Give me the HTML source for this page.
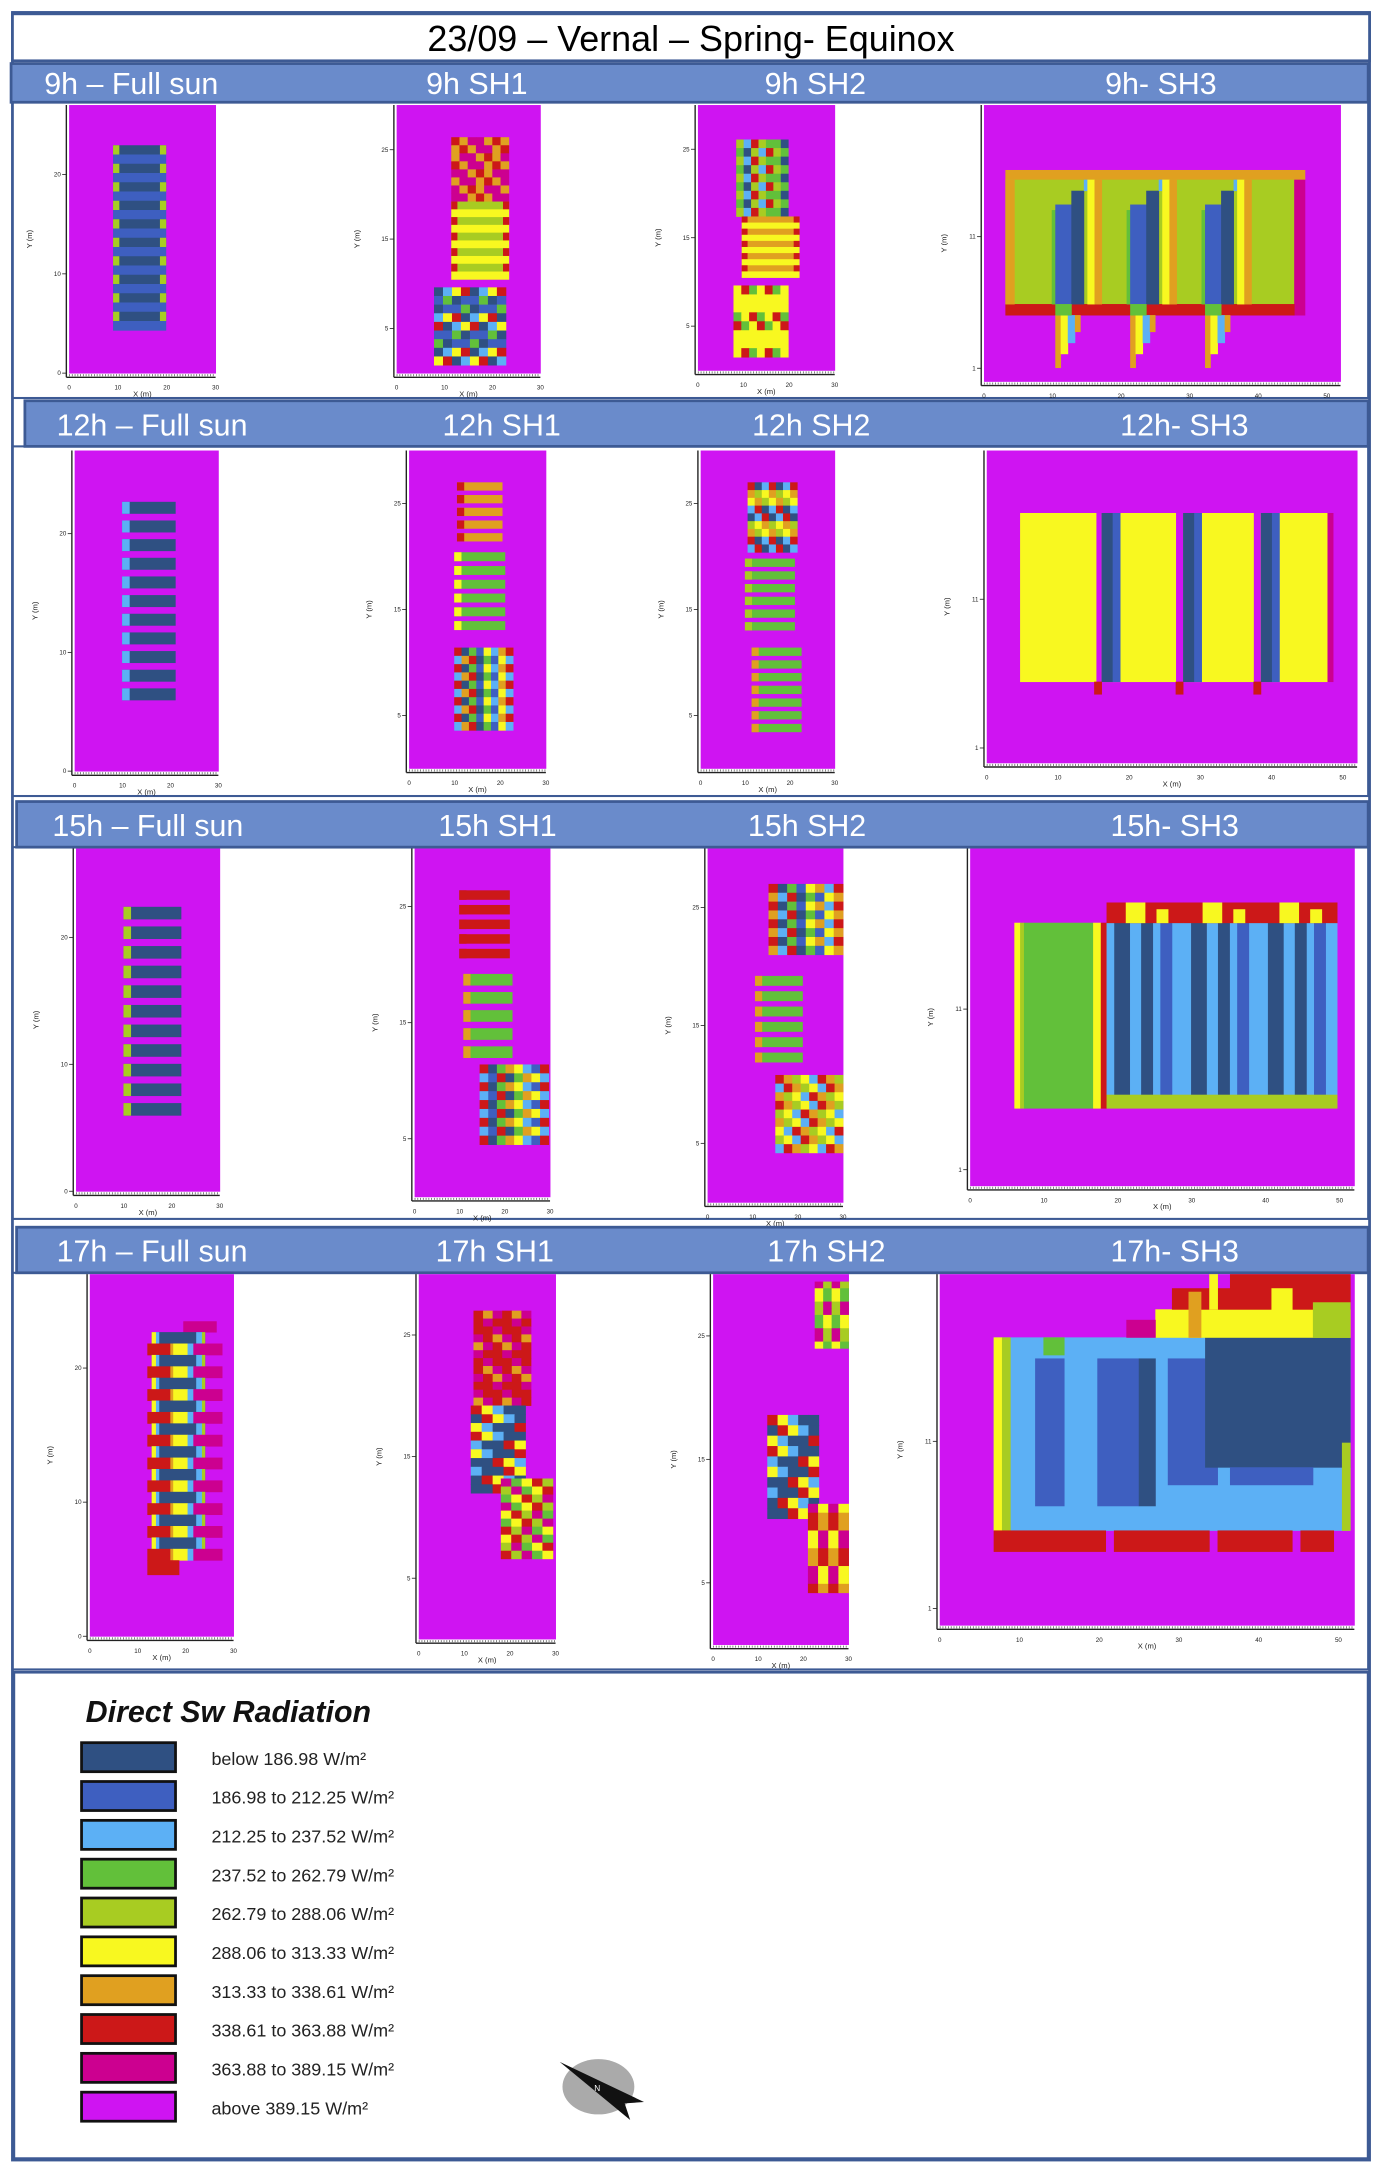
<!DOCTYPE html>
<html><head><meta charset="utf-8"><style>
html,body{margin:0;padding:0;background:#fff;}
svg{display:block;}
text{font-family:"Liberation Sans",sans-serif;}
</style></head><body>
<svg id="fig" width="1382" height="2178" viewBox="0 0 1000 1576" xmlns="http://www.w3.org/2000/svg">
<rect x="0" y="0" width="1000" height="1576" fill="#fff"/>
<rect x="9" y="9" width="982" height="1554" fill="none" stroke="#3d5a94" stroke-width="2"/>
<rect x="9" y="10" width="982" height="34" fill="#fff" stroke="#3d5a94" stroke-width="2"/>
<text x="500" y="37" font-size="26" text-anchor="middle" fill="#000">23/09 – Vernal – Spring- Equinox</text>
<g id="rows"></g>
<rect x="10" y="1210" width="980" height="352" fill="#fff" stroke="#3d5a94" stroke-width="2"/>
<text x="62" y="1246" font-size="22" font-weight="900" font-style="italic" fill="#111">Direct Sw Radiation</text>
<g id="legend"></g>
<g>
<ellipse cx="433" cy="1510" rx="26" ry="20" fill="#aaa"/>
<polygon points="405,1492 466,1521 452,1522 456,1534" fill="#111"/>
<text x="430" y="1513" font-size="6" fill="#fff">N</text>
</g>
</svg>
<script>
const NS="http://www.w3.org/2000/svg";
const legendLabels=["below 186.98 W/m²","186.98 to 212.25 W/m²","212.25 to 237.52 W/m²","237.52 to 262.79 W/m²","262.79 to 288.06 W/m²","288.06 to 313.33 W/m²","313.33 to 338.61 W/m²","338.61 to 363.88 W/m²","363.88 to 389.15 W/m²","above 389.15 W/m²"];
const legendColors=["#2f5082","#3e5fc0","#5cb0f5","#62c03a","#a8cc22","#f8f820","#e0a020","#cc1818","#cc0090","#cf14f2"];
const C={n:"#2f5082",b:"#3e5fc0",l:"#5cb0f5",g:"#62c03a",y:"#a8cc22",Y:"#f8f820",o:"#e0a020",r:"#cc1818",p:"#cc0090",m:"#cf14f2"};
const rowTops=[46,290,580,888];
const rowHeaderX=[8,18,12,12];
const rowBottoms=[288,576,882,1208];
const rowLabels=[["9h – Full sun","9h SH1","9h SH2","9h- SH3"],["12h – Full sun","12h SH1","12h SH2","12h- SH3"],["15h – Full sun","15h SH1","15h SH2","15h- SH3"],["17h – Full sun","17h SH1","17h SH2","17h- SH3"]];
const labelX=[[95,345,590,840],[110,363,587,857],[107,360,584,850],[110,358,598,850]];
const panels=[
[[50,76,156,270],[287,76,391,270],[505,76,604,268],[712,76,970,276]],
[[54,326,158,558],[296,326,395,556],[507,326,604,556],[714,326,982,552]],
[[55,614,159,862],[300,614,398,866],[512,614,610,870],[702,614,980,858]],
[[65,922,169,1184],[303,922,402,1186],[516,922,614,1190],[680,922,980,1176]]];
const specs=[
[[["bars",.30,.15,.66,.84,10,"n","b","y"]],
 [["chk",.38,.12,.78,.36,8,7,"rpoop"],["bars",.38,.36,.78,.65,5,"y","Y","r"],["chk",.26,.68,.76,.97,9,8,"nblbYgrn"]],
 [["chk",.28,.13,.66,.42,9,7,"yglgrny"],["bars",.32,.42,.74,.65,5,"o","Y","r"],["chk",.26,.68,.66,.95,8,7,"YYrYgY"]],
 [["sh3a"]]],
[[["gbars",.33,.16,.70,.80,11,"n","l"]],
 [["gbars",.35,.10,.68,.30,5,"o","r"],["gbars",.33,.32,.70,.58,6,"g","Y"],["chk",.33,.62,.76,.88,10,8,"rYnlgob"]],
 [["chk",.35,.10,.72,.32,9,7,"rYnoly"],["gbars",.33,.34,.70,.58,6,"g","y"],["gbars",.38,.62,.75,.90,7,"g","o"]],
 [["sh3b"]]],
[[["gbars",.33,.17,.73,.80,11,"n","y"]],
 [["gbars",.33,.12,.70,.33,5,"r","r"],["gbars",.36,.36,.72,.62,5,"g","o"],["chk",.48,.62,.99,.85,9,8,"rYnlgbo"]],
 [["chk",.45,.10,1,.30,8,8,"rYnoglb"],["gbars",.35,.36,.70,.62,6,"g","o"],["chk",.50,.64,1,.86,9,8,"rYoly"]],
 [["sh3c"]]],
[[["fs4"]],
 [["chk",.40,.10,.82,.36,12,6,"rrorpp"],["chk",.38,.36,.78,.60,10,5,"rnYnl"],["chk",.60,.56,.98,.78,10,5,"prgyY"]],
 [["chk",.75,.02,1,.20,10,4,"pgyY"],["chk",.40,.38,.78,.66,10,5,"rnYnl"],["chk",.70,.62,1,.86,10,4,"poYr"]],
 [["sh3d"]]]];
const rowsG=document.getElementById('rows');
function mk(tag,attrs,parent){const e=document.createElementNS(NS,tag);for(const k in attrs)e.setAttribute(k,attrs[k]);parent.appendChild(e);return e;}
function rect(g,x,y,w,h,c){if(w<=0||h<=0)return;mk('rect',{x:x,y:y,width:w+0.3,height:h+0.3,fill:c},g);}
function draw(g,p,s){
 const [X0,Y0,X1,Y1]=p,W=X1-X0,H=Y1-Y0;
 const fx=f=>X0+f*W, fy=f=>Y0+f*H;
 const R=(a,b,c,d,col)=>rect(g,fx(a),fy(b),fx(c)-fx(a),fy(d)-fy(b),C[col]||col);
 const t=s[0];
 if(t==="bars"){const[,a,b,c,d,n,A,B,cap]=s;const step=(d-b)/(2*n);
  for(let i=0;i<2*n;i++){const y0=b+i*step;R(a,y0,c,y0+step,i%2?B:A);if(i%2===0){R(a,y0,a+.04,y0+step,cap);R(c-.04,y0,c,y0+step,cap);}}}
 else if(t==="gbars"){const[,a,b,c,d,n,A,cap]=s;const step=(d-b)/n;
  for(let i=0;i<n;i++){const y0=b+i*step;R(a,y0,c,y0+step*.62,A);R(a,y0,a+.05,y0+step*.62,cap);}}
 else if(t==="chk"){const[,a,b,c,d,rows,cols,pal]=s;const sh=(d-b)/rows,sw=(c-a)/cols;
  for(let r=0;r<rows;r++)for(let q=0;q<cols;q++){const k=pal[(r*3+q*2+(r>>1))%pal.length];R(a+q*sw,b+r*sh,a+(q+1)*sw,b+(r+1)*sh,k);}}
 else if(t==="fs4"){R(.65,.13,.88,.16,"p");const n=10,b=.16,step=(.79-.16)/(2*n);
  for(let i=0;i<2*n;i++){const y0=b+i*step;
   if(i%2===0){R(.43,y0,.80,y0+step,"n");R(.43,y0,.46,y0+step,"Y");R(.46,y0,.48,y0+step,"l");R(.74,y0,.78,y0+step,"l");R(.78,y0,.80,y0+step,"y");}
   else{R(.40,y0,.56,y0+step,"r");R(.56,y0,.58,y0+step,"o");R(.58,y0,.68,y0+step,"Y");R(.68,y0,.72,y0+step,"l");R(.72,y0,.92,y0+step,"p");}}
  R(.40,.79,.62,.83,"r");}
 else if(t==="sh3a"){R(.06,.235,.90,.27,"o");R(.06,.27,.87,.72,"y");R(.87,.27,.90,.76,"p");R(.06,.72,.87,.76,"r");R(.06,.27,.085,.72,"o");
  for(let i=0;i<3;i++){const o=i*.21;R(.19+o,.38,.215+o,.72,"g");R(.2+o,.36,.245+o,.72,"b");R(.245+o,.31,.28+o,.72,"n");R(.28+o,.27,.295+o,.31,"l");R(.29+o,.27,.31+o,.72,"Y");R(.31+o,.27,.33+o,.72,"o");R(.2+o,.76,.215+o,.95,"o");R(.215+o,.76,.235+o,.9,"Y");R(.235+o,.76,.255+o,.86,"l");R(.255+o,.76,.27+o,.82,"o");R(.2+o,.72,.245+o,.76,"g");}}
 else if(t==="sh3b"){const bs=[[.09,.295],[.31,.51],[.53,.72],[.74,.92]];
  bs.forEach((q,i)=>{R(q[0],.20,q[1],.74,"Y");if(i>0){R(q[0],.20,q[0]+.03,.74,"n");R(q[0]+.03,.20,q[0]+.05,.74,"b");R(q[0]-.02,.74,q[0],.78,"r");}});R(.92,.20,.935,.74,"p");}
 else if(t==="sh3c"){R(.115,.22,.13,.77,"Y");R(.13,.22,.14,.77,"y");R(.14,.22,.32,.77,"g");R(.32,.22,.34,.77,"Y");R(.34,.22,.355,.77,"r");
  for(let i=0;i<3;i++){const o=.355+i*.2;R(o,.22,o+.2,.73,"l");R(o+.02,.22,o+.06,.73,"n");R(o+.09,.22,o+.12,.73,"n");R(o+.14,.22,o+.17,.73,"b");R(o,.73,o+.2,.77,"y");R(o,.16,o+.2,.22,"r");R(o+.05,.16,o+.1,.22,"Y");R(o+.13,.18,o+.16,.22,"Y");}}
 else if(t==="sh3d"){R(.13,.18,.99,.73,"l");R(.13,.18,.15,.73,"Y");R(.15,.18,.17,.73,"y");R(.23,.24,.30,.66,"b");R(.38,.24,.48,.66,"b");R(.48,.24,.52,.66,"n");R(.55,.24,.67,.60,"b");R(.64,.18,.99,.55,"n");R(.70,.55,.90,.60,"b");R(.25,.18,.3,.23,"g");R(.97,.48,.99,.73,"y");
  R(.13,.73,.40,.79,"r");R(.42,.73,.65,.79,"r");R(.67,.73,.85,.79,"r");R(.87,.73,.95,.79,"r");
  R(.52,.10,.99,.18,"Y");R(.56,.04,.99,.10,"r");R(.70,0,.99,.04,"r");R(.45,.13,.52,.18,"p");R(.6,.05,.63,.18,"o");R(.8,.04,.85,.13,"Y");R(.9,.08,.99,.18,"y");R(.65,.0,.67,.1,"Y");}
}
for(let r=0;r<4;r++){
 const hg=mk('g',{},rowsG);
 
 
 mk('rect',{x:rowHeaderX[r],y:rowTops[r],width:990-rowHeaderX[r],height:(r===0?28:33),fill:"#6a8bcb",stroke:"#3d5a94","stroke-width":2},hg);
 mk('rect',{x:9,y:rowTops[r]+(r===0?28:33),width:981,height:rowBottoms[r]-rowTops[r]-(r===0?28:33),fill:"none",stroke:"#3d5a94","stroke-width":1.5},hg);
 for(let c=0;c<4;c++){
  const tx=mk('text',{x:labelX[r][c],y:rowTops[r]+(r===0?22:25),"font-size":22,"text-anchor":"middle",fill:"#fff"},hg);
  
  
  tx.textContent=rowLabels[r][c];
  const p=panels[r][c];
  const g=mk('g',{},rowsG);
  
  
  rect(g,p[0],p[1],p[2]-p[0],p[3]-p[1],C.m);
  specs[r][c].forEach(s=>draw(g,p,s));
  mk('line',{x1:p[0]-2,y1:p[1],x2:p[0]-2,y2:p[3]+3,stroke:"#222","stroke-width":1},g);
  mk('line',{x1:p[0]-2,y1:p[3]+3,x2:p[2],y2:p[3]+3,stroke:"#222","stroke-width":1},g);
  mk('line',{x1:p[0],y1:p[3]+1.5,x2:p[2],y2:p[3]+1.5,stroke:"#666","stroke-width":1.5,"stroke-dasharray":"0.6 1.4"},g);
  const xs=c===3?[0,10,20,30,40,50]:[0,10,20,30];const xmax=c===3?52:30;
  xs.forEach(v=>{const xx=p[0]+v/xmax*(p[2]-p[0]);const t2=mk('text',{x:xx,y:p[3]+12,"font-size":4.5,"text-anchor":"middle",fill:"#222"},g);t2.textContent=v;});
  const xl=mk('text',{x:(p[0]+p[2])/2,y:p[3]+17,"font-size":5.5,"text-anchor":"middle",fill:"#222"},g);xl.textContent="X (m)";
  const ys=c===3?[1,11]:(c===0?[0,10,20]:[5,15,25]);const ymax=c===3?21:(c===0?27:30);
  ys.forEach(v=>{const yy=p[3]-v/ymax*(p[3]-p[1]);const t3=mk('text',{x:p[0]-6,y:yy+1.5,"font-size":4.5,"text-anchor":"end",fill:"#222"},g);t3.textContent=v;mk('line',{x1:p[0]-5,y1:yy,x2:p[0]-2,y2:yy,stroke:"#222","stroke-width":.6},g);});
  const yl=mk('text',{x:p[0]-27,y:(p[1]+p[3])/2,"font-size":5.5,"text-anchor":"middle",fill:"#222",transform:`rotate(-90 ${p[0]-27} ${(p[1]+p[3])/2})`},g);yl.textContent="Y (m)";
 }
}
const lg=document.getElementById('legend');
legendLabels.forEach((lab,i)=>{
 const y=1261+i*28.1;
 const sw=mk('rect',{x:59,y:y,width:68,height:21,fill:legendColors[i],stroke:"#111","stroke-width":2},lg);
 
 
 const t=mk('text',{x:153,y:y+16,"font-size":13,fill:"#222"},lg);
 
 
 t.textContent=lab;
});
</script>
</body></html>
